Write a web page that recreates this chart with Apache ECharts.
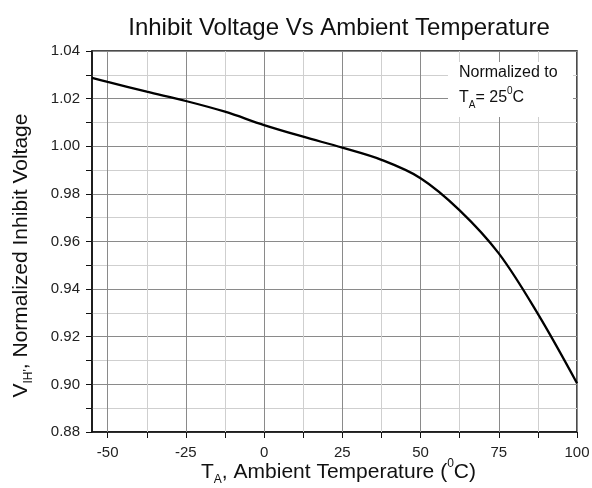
<!DOCTYPE html>
<html><head><meta charset="utf-8">
<script src="https://cdn.jsdelivr.net/npm/echarts@6/dist/echarts.min.js"></script>
<style>html,body{margin:0;padding:0;background:#fff}#c{width:592px;height:488px}</style>
</head><body><div id="c"></div>
<script>
const temps = [-55, -50, -37.5, -25, -12.5, 0, 12.5, 25, 37.5, 50, 62.5, 75, 87.5, 100];
const vih = [1.0287, 1.0270, 1.0229, 1.0190, 1.0145, 1.0089, 1.0040, 0.9994, 0.9943, 0.9866, 0.9731, 0.9550, 0.9296, 0.9005];
const xLabels = [-50, -25, 0, 25, 50, 75, 100];
const xGrid = [-50, -37.5, -25, -12.5, 0, 12.5, 25, 37.5, 50, 62.5, 75, 87.5, 100];

const FONT = 'Liberation Sans, Arial, sans-serif';
const chart = echarts.init(document.getElementById('c'), null, {renderer: 'canvas'});
chart.setOption({
  animation: false,
  backgroundColor: '#fff',
  title: {
    text: 'Inhibit Voltage Vs Ambient Temperature',
    left: 334, top: 11, textAlign: 'center',
    textStyle: {fontFamily: FONT, fontSize: 24, fontWeight: 'normal', color: '#111'}
  },
  grid: {left: 92, right: 15, top: 51, bottom: 56, outerBoundsMode: 'none', containLabel: false,
    show: true, borderColor: '#111', borderWidth: 1.5, backgroundColor: 'transparent'},
  xAxis: {
    type: 'value', min: -55, max: 100,
    axisLine: {show: true, onZero: false, lineStyle: {color: '#111', width: 1.5}},
    axisTick: {show: true, customValues: xGrid, inside: false, length: 6, lineStyle: {color: '#111'}},
    axisLabel: {customValues: xLabels, fontFamily: FONT, fontSize: 15, color: '#222', margin: 13},
    splitLine: {show: false},
    name: '{t|T}{sub|A}{t|, Ambient Temperature (}{sup|0}{t|C)}',
    nameLocation: 'middle', nameGap: 26, nameMoveOverlap: false,
    nameTextStyle: {
      padding: [0, 0, 0, 8],
      rich: {
        t: {fontFamily: FONT, fontSize: 21, color: '#111', lineHeight: 28, verticalAlign: 'middle'},
        sub: {fontFamily: FONT, fontSize: 12, color: '#111', lineHeight: 28, verticalAlign: 'bottom'},
        sup: {fontFamily: FONT, fontSize: 12, color: '#111', lineHeight: 28, verticalAlign: 'top'}
      }
    }
  },
  yAxis: {
    type: 'value', min: 0.88, max: 1.04, interval: 0.02,
    axisLine: {show: true, onZero: false, lineStyle: {color: '#111', width: 1.5}},
    axisTick: {show: true, length: 6, lineStyle: {color: '#111'}},
    minorTick: {show: true, splitNumber: 2, length: 6, lineStyle: {color: '#111'}},
    axisLabel: {fontFamily: FONT, fontSize: 15, color: '#222', margin: 12, formatter: v => v.toFixed(2)},
    splitLine: {show: true, lineStyle: {color: '#8a8a8a', width: 1}},
    minorSplitLine: {show: true, lineStyle: {color: '#cfcfcf', width: 1}},
    name: '{t|V}{sub|IH\'}{t|, Normalized Inhibit Voltage}',
    nameLocation: 'middle', nameGap: 57,
    nameTextStyle: {
      padding: [0, 28, 0, 0],
      rich: {
        t: {fontFamily: FONT, fontSize: 21, color: '#111', lineHeight: 28, verticalAlign: 'middle'},
        sub: {fontFamily: FONT, fontSize: 12, color: '#111', lineHeight: 28, verticalAlign: 'bottom'}
      }
    }
  },
  series: [
    {
      type: 'line', silent: true, data: [], symbol: 'none',
      markLine: {
        silent: true, symbol: 'none', label: {show: false},
        lineStyle: {type: 'solid', width: 1, color: '#b0b0b0'},
        data: xGrid.map((v, i) => ({xAxis: v, lineStyle: {color: (i % 2 === 0) ? '#8a8a8a' : '#cfcfcf'}}))
      }
    },
    {
      type: 'line', data: temps.map((t, i) => [t, vih[i]]),
      smooth: 0.35, symbol: 'none', z: 5,
      lineStyle: {color: '#000', width: 2.3}
    }
  ],
  graphic: [
    {type: 'rect', shape: {x: 448, y: 62, width: 125, height: 55}, style: {fill: '#fff'}, z: 100},
    {type: 'text', left: 459, top: 65, z: 101,
      style: {text: 'Normalized to', font: '16px Liberation Sans, Arial, sans-serif', fill: '#111'}},
    {type: 'text', left: 459, top: 86, z: 101,
      style: {
        text: '{t|T}{sub|A}{t|= 25}{sup|0}{t|C}',
        rich: {
          t: {font: '16px Liberation Sans, Arial, sans-serif', fill: '#111', lineHeight: 24, verticalAlign: 'middle'},
          sub: {font: '10px Liberation Sans, Arial, sans-serif', fill: '#111', lineHeight: 24, verticalAlign: 'bottom'},
          sup: {font: '10px Liberation Sans, Arial, sans-serif', fill: '#111', lineHeight: 24, verticalAlign: 'top'}
        }
      }}
  ]
});
</script>
</body></html>
